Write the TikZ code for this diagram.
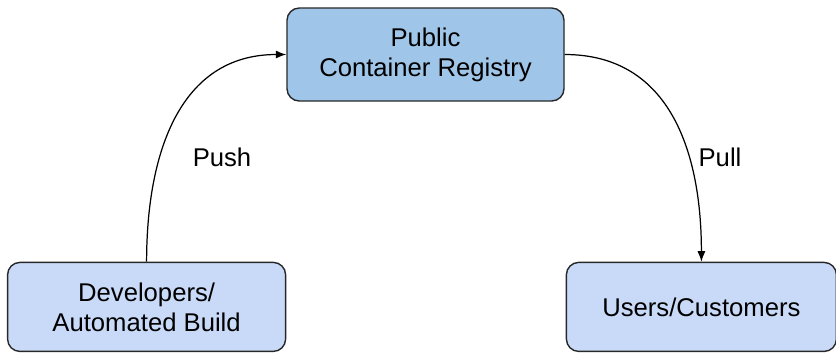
\documentclass[tikz,border=0pt]{standalone}
\usepackage{fontspec}
\setmainfont{Liberation Sans}
\usetikzlibrary{shapes,arrows.meta,positioning}
\definecolor{registryblue}{RGB}{159,197,232}
\definecolor{clientblue}{RGB}{201,218,248}
\definecolor{edgegray}{RGB}{40,40,40}
\tikzset{
    % Define standard node styles
    registrybox/.style={
        rectangle, draw=edgegray, line width=0.8pt, fill=registryblue,
        minimum width=5.54cm, minimum height=1.86cm, align=center,
        rounded corners=7pt, font=\fontsize{14.6}{17}\selectfont
    },
    clientbox/.style={
        rectangle, draw=edgegray, line width=0.8pt, fill=clientblue,
        minimum height=1.78cm, align=center,
        rounded corners=7pt, font=\fontsize{14.6}{17}\selectfont
    },
    arrow/.style={
        -{Latex[length=6pt,width=4.6pt]}, line width=0.7pt, color=black
    },
    flowlabel/.style={
        draw=none, fill=none, font=\fontsize{14.6}{17}\selectfont
    }
}
\begin{document}
\begin{tikzpicture}[node distance=3.2cm and 0cm]
\useasboundingbox (0,0) rectangle (16.72,-7.06);

% Registry in the middle
\node[registrybox] (registry) at (8.51,-1.09) {Public\\Container Registry};

% Both ends of the flow
\node[clientbox, minimum width=5.56cm, below left=3.2cm and 0cm of registry] (developers) {Developers/\\Automated Build};
\node[clientbox, minimum width=5.4cm, below right=3.2cm and 0.02cm of registry] (users) {Users/Customers};

% Image flow
\draw[arrow] (developers.north) to[out=90, in=180, looseness=1.1] (registry.west);
\draw[arrow] (registry.east) to[out=0, in=90, looseness=1.1] (users.north);

% Labels
\node[flowlabel] (push) at (4.44,-3.14) {Push};
\node[flowlabel] (pull) at (14.4,-3.14) {Pull};

\end{tikzpicture}
\end{document}
